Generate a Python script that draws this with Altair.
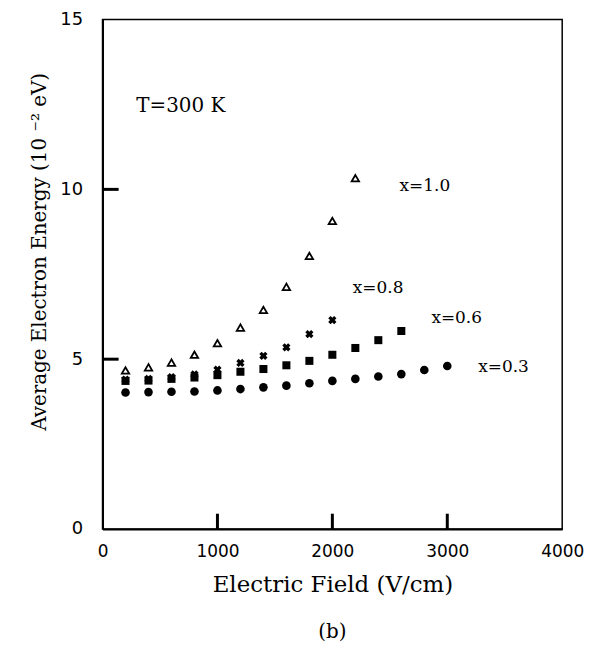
import altair as alt
import pandas as pd

# Electric field (V/cm) and average electron energy (10^-2 eV)
E_03 = [200, 400, 600, 800, 1000, 1200, 1400, 1600, 1800, 2000, 2200, 2400, 2600, 2800, 3000]
V_03 = [4.02, 4.03, 4.04, 4.05, 4.08, 4.12, 4.17, 4.22, 4.29, 4.36, 4.42, 4.49, 4.56, 4.68, 4.80]

E_06 = [200, 400, 600, 800, 1000, 1200, 1400, 1600, 1800, 2000, 2200, 2400, 2600]
V_06 = [4.36, 4.37, 4.42, 4.46, 4.53, 4.63, 4.71, 4.82, 4.95, 5.13, 5.33, 5.56, 5.83]

E_08 = [200, 400, 600, 800, 1000, 1200, 1400, 1600, 1800, 2000]
V_08 = [4.40, 4.42, 4.47, 4.55, 4.69, 4.89, 5.10, 5.35, 5.74, 6.15]

E_10 = [200, 400, 600, 800, 1000, 1200, 1400, 1600, 1800, 2000, 2200]
V_10 = [4.67, 4.76, 4.90, 5.13, 5.47, 5.93, 6.45, 7.13, 8.04, 9.07, 10.33]

LABELS = ["x=1.0", "x=0.8", "x=0.6", "x=0.3"]
LABEL_E = [2805, 2398, 3082, 3489]
LABEL_V = [10.1, 7.09, 6.21, 4.76]

X_TICKS = [0, 1000, 2000, 3000, 4000]
Y_TICKS = [0, 5, 10, 15]
X_INNER = [1000, 2000, 3000]
Y_INNER = [5, 10]

W, H = 462, 512

xs = alt.Scale(domain=[0, 4000], nice=False)
ys = alt.Scale(domain=[0, 15], nice=False)

x_axis = alt.Axis(values=X_TICKS, format="d", ticks=False, grid=False, domainWidth=2, domainColor="black",
                  labelFont="DejaVu Sans", labelFontSize=17, labelColor="black", labelPadding=15,
                  labelFlush=False, title="Electric Field (V/cm)", titleFont="DejaVu Serif",
                  titleFontSize=23, titleFontWeight="normal", titleColor="black", titlePadding=14)
y_axis = alt.Axis(values=Y_TICKS, format="d", ticks=False, grid=False, domainWidth=2, domainColor="black",
                  labelFont="DejaVu Sans", labelFontSize=18, labelColor="black", labelPadding=20,
                  labelFlush=False, title="Average Electron Energy (10 ⁻² eV)", titleFont="DejaVu Serif",
                  titleFontSize=20, titleFontWeight="normal", titleColor="black", titlePadding=10,
                  titleY=233)

def df(e, v):
    return pd.DataFrame({"E": e, "V": v})

enc = dict(x=alt.X("E:Q", scale=xs, axis=x_axis), y=alt.Y("V:Q", scale=ys, axis=y_axis))

circles = alt.Chart(df(E_03, V_03)).mark_point(shape="circle", filled=True, color="black", size=75, opacity=1).encode(**enc)
squares = alt.Chart(df(E_06, V_06)).mark_point(shape="square", filled=True, color="black", size=65, opacity=1).encode(**enc)
crosses = alt.Chart(df(E_08, V_08)).mark_point(shape="cross", angle=45, filled=True, color="black", size=70, opacity=1).encode(**enc)
tris = alt.Chart(df(E_10, V_10)).mark_point(shape="triangle-up", filled=False, color="black", size=55, strokeWidth=1.8, opacity=1).encode(**enc)

labels = alt.Chart(pd.DataFrame({"t": LABELS, "E": LABEL_E, "V": LABEL_V})).mark_text(
    font="DejaVu Serif", fontSize=17, color="black", align="center", baseline="middle"
).encode(x=alt.X("E:Q", scale=xs), y=alt.Y("V:Q", scale=ys), text="t:N")

temp = alt.Chart(pd.DataFrame({"t": ["T=300 K"], "E": [294], "V": [12.45]})).mark_text(
    font="DejaVu Serif", fontSize=20, color="black", align="left", baseline="middle"
).encode(x=alt.X("E:Q", scale=xs), y=alt.Y("V:Q", scale=ys), text="t:N")

# inward tick marks, drawn as short rules
xt = alt.Chart(pd.DataFrame({"E": X_INNER})).mark_rule(color="#000000", strokeWidth=3, opacity=1).encode(
    x=alt.X("E:Q", scale=xs), y=alt.datum(0, scale=ys), y2=alt.datum(0.45))
yt = alt.Chart(pd.DataFrame({"V": Y_INNER})).mark_rule(color="#000000", strokeWidth=3, opacity=1).encode(
    y=alt.Y("V:Q", scale=ys), x=alt.datum(0, scale=xs), x2=alt.datum(140))

chart = alt.layer(circles, squares, crosses, tris, labels, temp, xt, yt).properties(
    width=W, height=H,
    title=alt.TitleParams("(b)", orient="bottom", font="DejaVu Serif", fontSize=20,
                          fontWeight="normal", color="black", offset=26),
    autosize=alt.AutoSizeParams(type="none"),
    padding={"left": 95, "top": 10, "right": 40, "bottom": 120},
    background="white",
).configure_view(stroke="black", strokeWidth=1.5)

chart.save("out.html", embed_options={"renderer": "svg", "actions": False})
